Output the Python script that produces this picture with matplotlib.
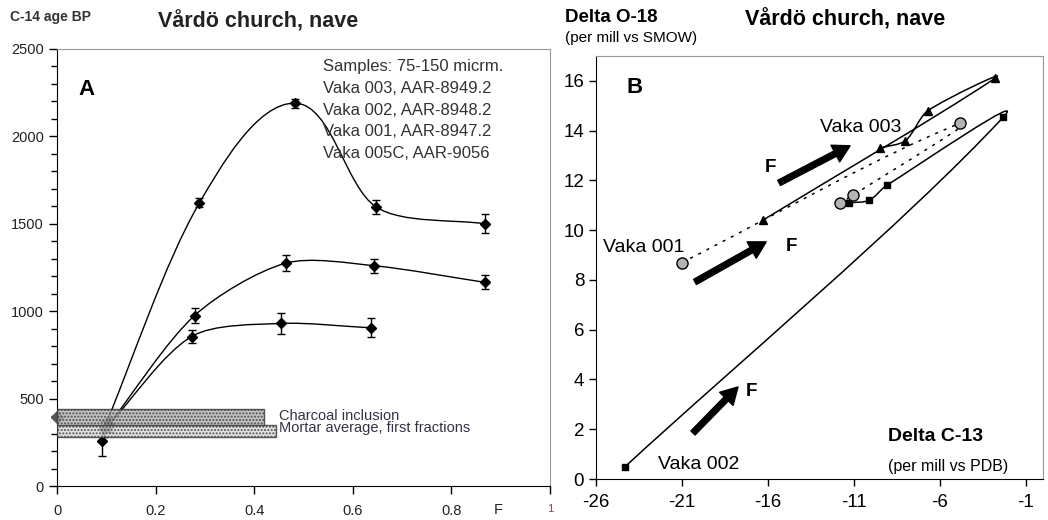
import numpy as np
import matplotlib.pyplot as plt
from matplotlib.path import Path
from matplotlib.patches import PathPatch

plt.rcParams['font.family'] = ['Liberation Sans', 'DejaVu Sans']
plt.rcParams['axes.unicode_minus'] = False

# --- panel A: C-14 age vs fraction F ---
f_top = [0.095, 0.289, 0.483, 0.648, 0.868]
age_top = [325, 1620, 2190, 1595, 1500]
err_top = [45, 25, 25, 40, 55]
f_mid = [0.105, 0.279, 0.464, 0.644, 0.868]
age_mid = [350, 975, 1275, 1260, 1165]
err_mid = [40, 45, 45, 40, 40]
f_low = [0.105, 0.273, 0.454, 0.637]
age_low = [350, 855, 930, 905]
err_low = [40, 35, 60, 55]
f_005c = [0.091]
age_005c = [258]
err_005c = [85]
charcoal_age, charcoal_err, charcoal_end = 393, 47, 0.42
mortar_age, mortar_err, mortar_end = 315, 32, 0.444
sample_lines = ["Samples: 75-150 micrm.", "Vaka 003, AAR-8949.2", "Vaka 002, AAR-8948.2",
                "Vaka 001, AAR-8947.2", "Vaka 005C, AAR-9056"]

# --- panel B: delta O-18 vs delta C-13 ---
v002_c13 = [-24.3, -2.3, -9.1, -10.1, -11.3]
v002_o18 = [0.5, 14.55, 11.8, 11.2, 11.1]
v003_c13 = [-16.3, -2.8, -6.7, -8.0, -9.5]
v003_o18 = [10.4, 16.1, 14.8, 13.6, 13.3]
v001_c13 = [-21.0, -4.8, -11.05, -11.8]
v001_o18 = [8.7, 14.3, 11.4, 11.1]
arrows = [((-15.35, 11.9), (-11.22, 13.39)),
          ((-20.24, 7.92), (-16.1, 9.53)),
          ((-20.36, 1.85), (-17.74, 3.7))]
f_labels = [(-15.88, 12.5), (-14.66, 9.33), (-16.93, 3.5)]


def smooth_path(xs, ys, sx, sy, k=0.28):
    # Excel-like smoothed line: bezier segments, tangents from neighbours
    P = np.column_stack([np.asarray(xs, float) * sx, np.asarray(ys, float) * sy])
    n = len(P)
    verts = [P[0]]
    codes = [Path.MOVETO]
    for i in range(n - 1):
        p0, p1, p2, p3 = P[max(i - 1, 0)], P[i], P[i + 1], P[min(i + 2, n - 1)]
        seg = np.linalg.norm(p2 - p1)
        d1 = (p2 - p0) / np.linalg.norm(p2 - p0)
        d2 = (p3 - p1) / np.linalg.norm(p3 - p1)
        verts += [p1 + d1 * seg * k, p2 - d2 * seg * k, p2]
        codes += [Path.CURVE4] * 3
    return Path(np.array(verts) / [sx, sy], codes)


fig = plt.figure(figsize=(10.48, 5.20), dpi=100)
W, H = 1048, 520


def px(x, y):
    return x / W, 1 - y / H


# ---------------- panel A ----------------
ax = fig.add_axes([57 / W, 1 - 486 / H, 493 / W, 437 / H])
ax.set_xlim(0, 1)
ax.set_ylim(0, 2500)
sA = (492, 436 / 2500)
for xs, ys, es in [(f_top, age_top, err_top), (f_mid, age_mid, err_mid), (f_low, age_low, err_low)]:
    ax.add_patch(PathPatch(smooth_path(xs, ys, *sA), fill=False, ec='black', lw=1.0, zorder=2))
    ax.errorbar(xs, ys, yerr=es, fmt='D', color='black', ms=5.5, capsize=3, elinewidth=1, capthick=1, zorder=3)
ax.errorbar(f_005c, age_005c, yerr=err_005c, fmt='D', color='black', ms=5.5, capsize=3, elinewidth=1, zorder=3)
ax.plot([0], [charcoal_age], 'D', color='#555555', ms=6, clip_on=False, zorder=3)

ax.barh(charcoal_age, charcoal_end, height=2 * charcoal_err, left=0, color='#b4b4b4',
        edgecolor='#333333', lw=1, alpha=0.8, hatch='.....', zorder=4)
ax.barh(mortar_age, mortar_end, height=2 * mortar_err, left=0, color='#dadada',
        edgecolor='#333333', lw=1, alpha=0.8, hatch='.....', zorder=4)
ax.text(0.451, 400, "Charcoal inclusion", fontsize=10.5, color='#333344', va='center')
ax.text(0.451, 330, "Mortar average, first fractions", fontsize=10.5, color='#333344', va='center')
ax.text(0.54, 2445, "\n".join(sample_lines), fontsize=12, color='#333333', va='top',
        linespacing=1.58)
ax.text(0.059, 2270, "A", fontsize=16, fontweight='bold', ha='center', va='center')

ax.set_yticks(np.arange(0, 2501, 500))
ax.set_yticks(np.arange(0, 2501, 100), minor=True)
ax.set_xticks([0, 0.2, 0.4, 0.6, 0.8, 1.0])
ax.set_xticklabels(['0', '0.2', '0.4', '0.6', '0.8', '1'])
ax.tick_params(axis='both', labelsize=10.5, colors='black', labelcolor='#222222', length=6, width=1)
ax.tick_params(axis='y', which='minor', length=4, width=1)
ax.tick_params(axis='x', pad=7)
ax.get_xticklabels()[-1].set_color('#a0306a')
ax.get_xticklabels()[-1].set_fontsize(8)
ax.text(0.895, -0.04, "F", transform=ax.transAxes, fontsize=10.5, color='#222222', ha='center', va='top')
for s in ['top', 'right']:
    ax.spines[s].set_color('#999999')
for s in ['left', 'bottom']:
    ax.spines[s].set_color('black')

fig.text(*px(10, 17), "C-14 age BP", fontsize=10, fontweight='bold', color='#333333', va='center')
fig.text(*px(258, 22), "Vårdö church, nave", fontsize=15.5, fontweight='bold', color='#222222',
         ha='center', va='center')

# ---------------- panel B ----------------
bx = fig.add_axes([596 / W, 1 - 479 / H, 447 / W, 423 / H])
bx.set_xlim(-26, 0)
bx.set_ylim(0, 17)
sB = (17.19, 24.875)
bx.add_patch(PathPatch(smooth_path(v002_c13, v002_o18, *sB), fill=False, ec='black', lw=1.1))
bx.plot(v002_c13, v002_o18, 's', color='black', ms=5, ls='none')
bx.add_patch(PathPatch(smooth_path(v003_c13, v003_o18, *sB), fill=False, ec='black', lw=1.1))
bx.plot(v003_c13, v003_o18, '^', color='black', ms=6, ls='none')
bx.add_patch(PathPatch(smooth_path(v001_c13, v001_o18, *sB), fill=False, ec='black', lw=1.1,
                       ls=(0, (2, 4))))
bx.plot(v001_c13, v001_o18, 'o', mfc='#b4b4b4', mec='black', mew=1, ms=8, ls='none')

for (start, tip) in arrows:
    bx.annotate('', xy=tip, xytext=start,
                arrowprops=dict(arrowstyle='simple,head_length=0.8,head_width=0.9,tail_width=0.28',
                                mutation_scale=15, fc='black', ec='black', shrinkA=0, shrinkB=0))
for (x, y) in f_labels:
    bx.text(x, y, "F", fontsize=13.5, fontweight='bold', ha='center', va='center')

bx.text(-13.0, 14.13, "Vaka 003", fontsize=14, va='center')
bx.text(-25.6, 9.3, "Vaka 001", fontsize=14, va='center')
bx.text(-22.4, 0.6, "Vaka 002", fontsize=14, va='center')
bx.text(-9.0, 1.7, "Delta C-13", fontsize=14, fontweight='bold', va='center')
bx.text(-9.0, 0.5, "(per mill vs PDB)", fontsize=11.5, va='center')
bx.text(-23.73, 15.72, "B", fontsize=16, fontweight='bold', ha='center', va='center')

bx.set_xticks([-26, -21, -16, -11, -6, -1])
bx.set_yticks(np.arange(0, 17, 2))
bx.tick_params(axis='both', labelsize=13.5, length=5, width=1)
bx.tick_params(axis='x', pad=6)
for s in ['top', 'right']:
    bx.spines[s].set_color('#999999')

fig.text(*px(565, 18), "Delta O-18", fontsize=13.5, fontweight='bold', va='center')
fig.text(*px(565, 38), "(per mill vs SMOW)", fontsize=11, va='center')
fig.text(*px(845, 20), "Vårdö church, nave", fontsize=15.5, fontweight='bold', ha='center', va='center')

fig.savefig('out.png', dpi=100)
